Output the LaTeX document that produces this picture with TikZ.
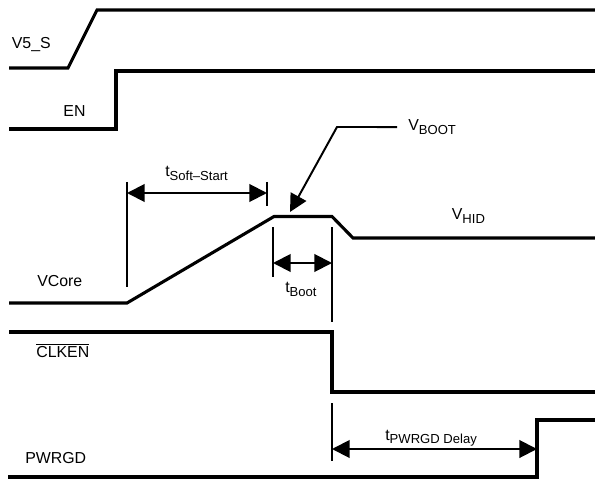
\documentclass[tikz,border=0pt]{standalone}
\usepackage{fontspec}
\setmainfont{Liberation Sans}
\usetikzlibrary{arrows.meta}
\newcommand{\subtxt}[1]{\raisebox{-2.6pt}{\fontsize{9.3}{10}\selectfont #1}}

\begin{document}
\begin{tikzpicture}[
  >={Triangle[length=0.44cm, width=0.44cm]},
  every node/.style={font=\fontsize{11.3}{13}\selectfont, inner sep=0pt, anchor=base west},
  wave/.style={line width=2.2pt},
  dimline/.style={line width=1.4pt}
]
\useasboundingbox (0, 0) rectangle (14.875, 11.975);

% Waveforms
\draw[wave] (0.225, 10.275) -- (1.7, 10.275) -- (2.425, 11.725) -- (14.875, 11.725);
\draw[wave] (0.225, 8.75) -- (2.9, 8.75) -- (2.9, 10.2) -- (14.875, 10.2);
\draw[wave] (0.225, 4.4) -- (3.175, 4.4) -- (6.85, 6.5625) -- (8.3, 6.5625) -- (8.825, 6.025) -- (14.875, 6.025);
\draw[wave] (0.225, 3.675) -- (8.3, 3.675) -- (8.3, 2.175) -- (14.875, 2.175);
\draw[wave] (0.2, 0.05) -- (13.425, 0.05) -- (13.425, 1.475) -- (14.875, 1.475);

% Signal labels
\node (v5s) at (0.29, 10.77) {V5\_S};
\node (en) at (1.58, 9.05) {EN};
\node (vcore) at (0.925, 4.81) {VCore};
\node (clken) at (0.9, 3.04) {$\overline{\mbox{CLKEN}}$};
\node (pwrgd) at (0.625, 0.39) {PWRGD};

% Soft start
\coordinate (ssL) at (3.175, 7.15);
\coordinate (ssR) at (6.675, 7.15);
\draw[dimline] (3.175, 7.425) -- (3.175, 4.8);
\draw[dimline] (6.675, 7.425) -- (6.675, 6.825);
\draw[dimline, <->] (ssL) -- (ssR);
\node (tsoft) at (4.125, 7.55) {t\subtxt{Soft–Start}};

% Boot
\coordinate (btL) at (6.825, 5.4);
\coordinate (btR) at (8.3, 5.4);
\draw[dimline] (6.825, 6.3) -- (6.825, 5.05);
\draw[dimline] (8.3, 6.3) -- (8.3, 3.925);
\draw[dimline, <->] (btL) -- (btR);
\node (tboot) at (7.125, 4.66) {t\subtxt{Boot}};

% PWRGD delay
\coordinate (pgL) at (8.3, 0.75);
\coordinate (pgR) at (13.425, 0.75);
\draw[dimline] (8.3, 1.9) -- (8.3, 0.45);
\draw[dimline, <->] (pgL) -- (pgR);
\node (tpwrgd) at (9.625, 0.975) {t\subtxt{PWRGD Delay}};

% Voltage levels
\node (vboot) at (10.2, 8.71) {V\subtxt{BOOT}};
\node (vhid) at (11.29, 6.475) {V\subtxt{HID}};
\coordinate (bend) at (8.425, 8.8);
\coordinate (bootpt) at (7.25, 6.675);
\draw[dimline, ->] ([xshift=-0.275cm]vboot.west) -- (bend) -- (bootpt);

\end{tikzpicture}
\end{document}
